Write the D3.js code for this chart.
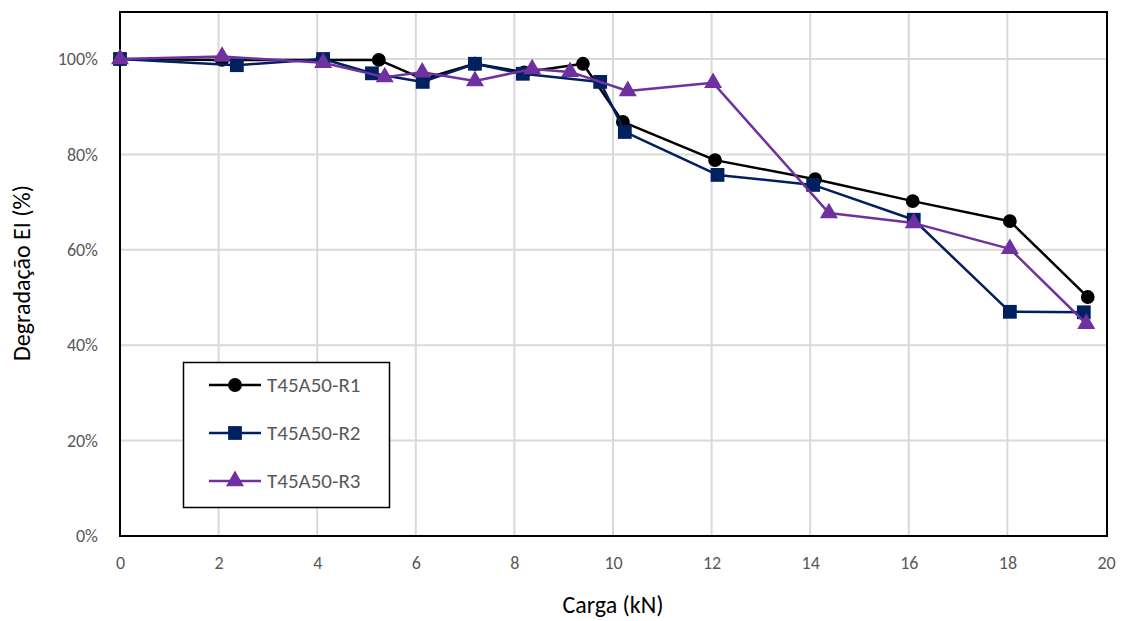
<!DOCTYPE html>
<html>
<head>
<meta charset="utf-8">
<script src="https://cdn.jsdelivr.net/npm/d3@7"></script>
<style>
  html, body { margin: 0; padding: 0; background: #fff; }
  svg { display: block; }
</style>
</head>
<body>
<svg id="chart" width="1128" height="621"></svg>
<script>
// Load (kN) and stiffness degradation (EI ratio) for each specimen
const r1Load = [0, 2.07, 4.1, 5.25, 6.15, 7.2, 8.2, 9.39, 10.2, 12.07, 14.1, 16.08, 18.05, 19.63];
const r1EI   = [1.00, 0.998, 0.998, 0.998, 0.958, 0.990, 0.972, 0.990, 0.868, 0.788, 0.748, 0.702, 0.660, 0.501];

const r2Load = [0, 2.37, 4.12, 5.11, 6.14, 7.2, 8.17, 9.74, 10.24, 12.12, 14.06, 16.1, 18.05, 19.55];
const r2EI   = [1.00, 0.987, 1.00, 0.970, 0.952, 0.990, 0.969, 0.952, 0.847, 0.757, 0.736, 0.663, 0.470, 0.469];

const r3Load = [0, 2.07, 4.12, 5.37, 6.13, 7.2, 8.36, 9.13, 10.3, 12.03, 14.38, 16.1, 18.05, 19.6];
const r3EI   = [1.00, 1.005, 0.992, 0.962, 0.972, 0.954, 0.979, 0.973, 0.933, 0.950, 0.677, 0.656, 0.602, 0.445];

const seriesNames = ["T45A50-R1", "T45A50-R2", "T45A50-R3"];
const xTicks = [0, 2, 4, 6, 8, 10, 12, 14, 16, 18, 20];
const yTicks = [0, 0.2, 0.4, 0.6, 0.8, 1.0];

const series = [
  { name: seriesNames[0], load: r1Load, ei: r1EI, color: "#000000", symbol: d3.symbolCircle, size: 150 },
  { name: seriesNames[1], load: r2Load, ei: r2EI, color: "#002060", symbol: d3.symbolSquare, size: 190 },
  { name: seriesNames[2], load: r3Load, ei: r3EI, color: "#7030A0", symbol: d3.symbolTriangle, size: 140 }
];

const svg = d3.select("#chart");
const plotL = 120, plotR = 1107, plotT = 12, plotB = 536;

const x = d3.scaleLinear().domain([0, 20]).range([plotL, 1106]);
const y = d3.scaleLinear().domain([0, 1.1]).range([plotB, 11.3]);

const font = "Carlito, Calibri, Lato, 'Open Sans', sans-serif";

// gridlines
const grid = svg.append("g");
grid.selectAll("line.v").data(xTicks.slice(1, -1)).join("line")
  .attr("x1", d => x(d)).attr("x2", d => x(d))
  .attr("y1", plotT).attr("y2", plotB)
  .attr("stroke", "#d9d9d9").attr("stroke-width", 2);
grid.selectAll("line.h").data(yTicks.slice(1)).join("line")
  .attr("x1", plotL).attr("x2", plotR)
  .attr("y1", d => y(d)).attr("y2", d => y(d))
  .attr("stroke", "#d9d9d9").attr("stroke-width", 2);

// axes (labels only; the frame is drawn separately)
const xAxis = svg.append("g").attr("transform", `translate(0,${plotB})`)
  .call(d3.axisBottom(x).tickValues(xTicks).tickSize(0).tickPadding(20).tickFormat(d3.format("d")));
const yAxis = svg.append("g").attr("transform", `translate(${plotL},0)`)
  .call(d3.axisLeft(y).tickValues(yTicks).tickSize(0).tickPadding(22).tickFormat(d3.format(".0%")));
[xAxis, yAxis].forEach(a => {
  a.select(".domain").remove();
  a.selectAll("text").attr("fill", "#595959").style("font-family", font).style("font-size", "18px");
});

// plot frame
svg.append("rect")
  .attr("x", plotL).attr("y", plotT).attr("width", plotR - plotL).attr("height", plotB - plotT)
  .attr("fill", "none").attr("stroke", "#000").attr("stroke-width", 2);

// series lines and markers
const line = d3.line().x(d => x(d[0])).y(d => y(d[1]));
series.forEach(s => {
  const pts = s.load.map((v, i) => [v, s.ei[i]]);
  svg.append("path").datum(pts)
    .attr("d", line).attr("fill", "none")
    .attr("stroke", s.color).attr("stroke-width", 2.5).attr("stroke-linejoin", "round");
  svg.append("g").selectAll("path").data(pts).join("path")
    .attr("transform", d => `translate(${x(d[0])},${y(d[1])})`)
    .attr("d", d3.symbol().type(s.symbol).size(s.size))
    .attr("fill", s.color);
});

// axis titles
svg.append("text")
  .attr("x", 613).attr("y", 613).attr("text-anchor", "middle")
  .style("font-family", font).style("font-size", "24px").attr("fill", "#000")
  .text("Carga (kN)");
svg.append("text")
  .attr("transform", "translate(30,273) rotate(-90)").attr("text-anchor", "middle")
  .style("font-family", font).style("font-size", "24px").attr("fill", "#000")
  .text("Degradação EI (%)");

// legend
const lg = svg.append("g");
lg.append("rect").attr("x", 183.5).attr("y", 362.5).attr("width", 206).attr("height", 145)
  .attr("fill", "#fff").attr("stroke", "#000").attr("stroke-width", 1.5);
series.forEach((s, i) => {
  const cy = 385 + i * 48;
  lg.append("line").attr("x1", 209).attr("x2", 261).attr("y1", cy).attr("y2", cy)
    .attr("stroke", s.color).attr("stroke-width", 2.5);
  lg.append("path").attr("transform", `translate(235,${cy})`)
    .attr("d", d3.symbol().type(s.symbol).size(s.size)).attr("fill", s.color);
  lg.append("text").attr("x", 267).attr("y", cy).attr("dy", "0.35em")
    .style("font-family", font).style("font-size", "21px").attr("fill", "#595959")
    .text(s.name);
});
</script>
</body>
</html>
